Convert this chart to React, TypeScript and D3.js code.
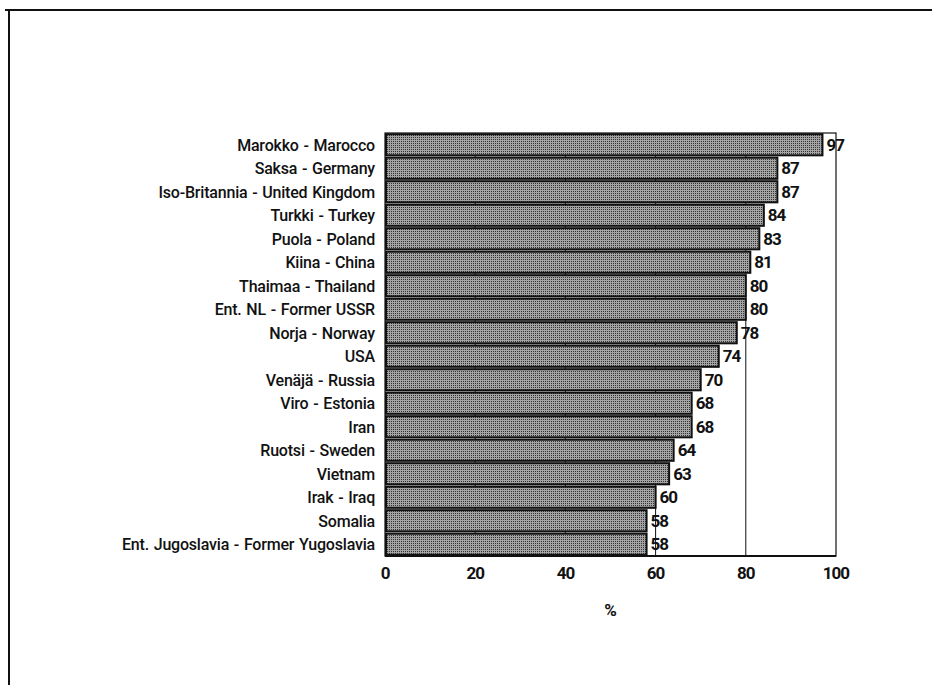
import React, { useEffect, useRef } from "react";
import * as d3 from "d3";

// countries, top to bottom
const countries = [
  "Marokko - Marocco",
  "Saksa - Germany",
  "Iso-Britannia - United Kingdom",
  "Turkki - Turkey",
  "Puola - Poland",
  "Kiina - China",
  "Thaimaa - Thailand",
  "Ent. NL - Former USSR",
  "Norja - Norway",
  "USA",
  "Venäjä - Russia",
  "Viro - Estonia",
  "Iran",
  "Ruotsi - Sweden",
  "Vietnam",
  "Irak - Iraq",
  "Somalia",
  "Ent. Jugoslavia - Former Yugoslavia",
];
const percents = [97, 87, 87, 84, 83, 81, 80, 80, 78, 74, 70, 68, 68, 64, 63, 60, 58, 58];
const xTicks = [0, 20, 40, 60, 80, 100];
const gridValues = [20, 40, 60, 80];

const FONT = "Roboto, 'Liberation Sans', sans-serif";

export default function App() {
  const ref = useRef<SVGSVGElement>(null);

  useEffect(() => {
    drawChart();
  }, []);

  const drawChart = () => {
    const root = d3.select(ref.current);
    root.selectAll("*").remove();

    const margin = { top: 133, left: 385 };
    const width = 451, height = 423;

    // dithered grey like the scanned print
    const defs = root.append("defs");
    const pat = defs.append("pattern")
      .attr("id", "dither")
      .attr("width", 2).attr("height", 2)
      .attr("patternUnits", "userSpaceOnUse");
    pat.append("rect").attr("width", 2).attr("height", 2).attr("fill", "#a4a4a4");
    pat.append("rect").attr("width", 1).attr("height", 1).attr("fill", "#333");

    // outer frame (only top and left show)
    root.append("line").attr("x1", 5).attr("x2", 932).attr("y1", 10).attr("y2", 10)
      .attr("stroke", "#111").attr("stroke-width", 2);
    root.append("line").attr("x1", 9).attr("x2", 9).attr("y1", 10).attr("y2", 685)
      .attr("stroke", "#111").attr("stroke-width", 2);

    const svg = root.append("g").attr("transform", `translate(${margin.left},${margin.top})`);

    const x = d3.scaleLinear().domain([0, 100]).range([0, width]);
    const y = d3.scaleBand().domain(countries).range([0, height]).paddingInner(0.1).paddingOuter(0.05);

    // grid
    svg.selectAll(".grid")
      .data(gridValues)
      .enter()
      .append("line")
      .attr("x1", d => x(d)).attr("x2", d => x(d))
      .attr("y1", 0).attr("y2", height)
      .attr("stroke", "#111").attr("stroke-width", 1);

    // plot frame
    svg.append("rect")
      .attr("width", width).attr("height", height)
      .attr("fill", "none").attr("stroke", "#111").attr("stroke-width", 1.2);

    // bars
    svg.selectAll(".bar")
      .data(countries)
      .enter()
      .append("rect")
      .attr("x", x(0) + 1)
      .attr("y", d => y(d)!)
      .attr("width", (d, i) => x(percents[i]) - x(0) - 1)
      .attr("height", y.bandwidth())
      .attr("fill", "url(#dither)")
      .attr("stroke", "#111")
      .attr("stroke-width", 2);

    // bottom axis line
    svg.append("line").attr("x1", 0).attr("x2", width).attr("y1", height).attr("y2", height)
      .attr("stroke", "#111").attr("stroke-width", 2);

    // category labels
    svg.selectAll(".lab")
      .data(countries)
      .enter()
      .append("text")
      .attr("x", -10)
      .attr("y", d => y(d)! + y.bandwidth() / 2)
      .attr("dy", "0.36em")
      .attr("text-anchor", "end")
      .style("font-family", FONT)
      .style("font-size", "16px")
      .style("font-weight", "500")
      .style("letter-spacing", "-0.2px")
      .style("word-spacing", "1px")
      .attr("fill", "#111")
      .text(d => d);

    // value labels
    svg.selectAll(".val")
      .data(countries)
      .enter()
      .append("text")
      .attr("x", (d, i) => x(percents[i]) + 4)
      .attr("y", d => y(d)! + y.bandwidth() / 2)
      .attr("dy", "0.36em")
      .style("font-family", FONT)
      .style("font-size", "17px")
      .style("font-weight", "bold")
      .style("letter-spacing", "-1px")
      .attr("fill", "#111")
      .text((d, i) => percents[i]);

    // x tick labels
    svg.selectAll(".tick")
      .data(xTicks)
      .enter()
      .append("text")
      .attr("x", d => x(d))
      .attr("y", height + 23)
      .attr("text-anchor", "middle")
      .style("font-family", FONT)
      .style("font-size", "17px")
      .style("font-weight", "bold")
      .style("letter-spacing", "-1px")
      .attr("fill", "#111")
      .text(d => d);

    // axis title
    svg.append("text")
      .attr("x", width / 2)
      .attr("y", height + 60)
      .attr("text-anchor", "middle")
      .style("font-family", FONT)
      .style("font-size", "17px")
      .style("font-weight", "bold")
      .attr("fill", "#111")
      .text("%");
  };

  return (
    <svg ref={ref} width={932} height={685}
      style={{ position: "absolute", left: 0, top: 0, background: "#fff" }} />
  );
}
